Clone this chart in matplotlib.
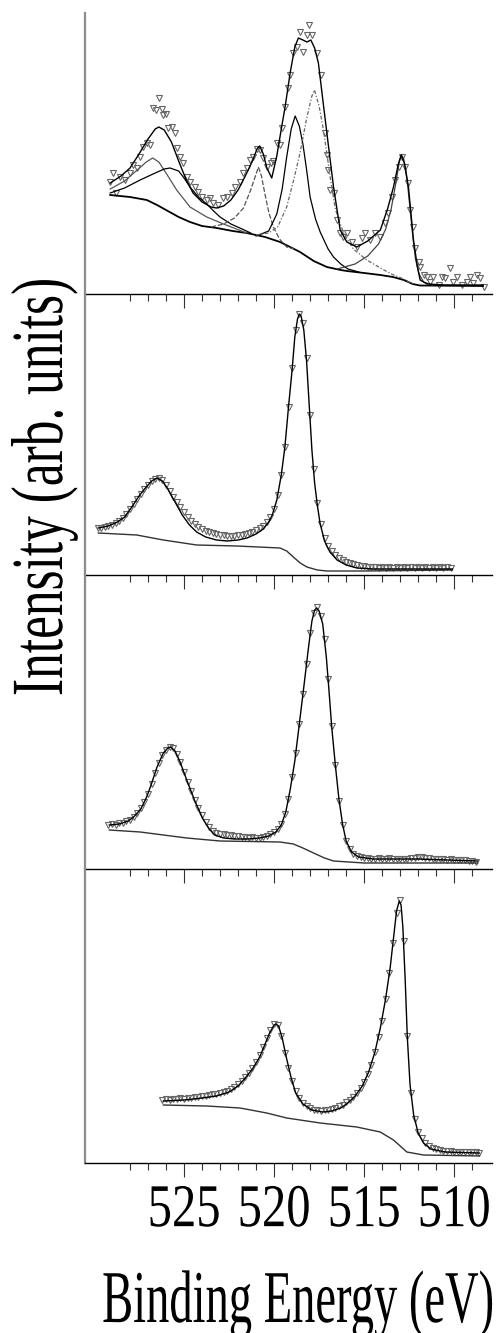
"""Four stacked XPS spectra (fits + Shirley background), binding energy 530-508 eV."""
import matplotlib
matplotlib.use("Agg")
import matplotlib.pyplot as plt
import numpy as np
from matplotlib import patheffects
from matplotlib.transforms import Affine2D
from matplotlib.ticker import FixedLocator, NullFormatter

# ---------------------------------------------------------------- panel 1 (top)
p1_data_e = [529.11, 528.93, 528.78, 528.56, 528.28, 528.0, 527.81, 527.63, 527.44, 527.26,
             527.07, 526.89, 526.7, 526.56, 526.39, 526.24, 526.15, 526.0, 525.87, 525.68,
             525.5, 525.41, 525.22, 525.04, 524.85, 524.67, 524.39, 524.21, 524.02, 523.74,
             523.56, 523.37, 523.09, 522.81, 522.63, 522.35, 522.17, 521.89, 521.7, 521.52,
             521.33, 521.15, 520.96, 520.78, 520.63, 520.41, 520.18, 520.04, 519.85, 519.67,
             519.57, 519.39, 519.2, 519.11, 518.93, 518.74, 518.56, 518.37, 518.18, 518.04,
             517.91, 517.63, 517.41, 517.17, 517.07, 516.98, 516.89, 516.7, 516.52, 516.33,
             516.15, 515.96, 515.68, 515.41, 515.13, 514.94, 514.67, 514.39, 514.11, 513.83,
             513.65, 513.46, 513.28, 513.09, 512.91, 512.72, 512.54, 512.44, 512.26, 512.17,
             511.98, 511.89, 511.7, 511.52, 511.33, 511.15, 510.87, 510.68, 510.5, 510.22,
             510.04, 509.85, 509.57, 509.3, 509.11, 508.93, 508.74, 508.56, 508.37]
p1_data_i = [112, 121, 101, 117, 114, 121, 129, 126, 137, 147,
             151, 149, 186, 184, 196, 185, 179, 180, 166, 167,
             161, 146, 137, 131, 117, 112, 107, 102, 97, 94,
             96, 91, 89, 96, 97, 101, 107, 112, 121, 126,
             134, 137, 145, 144, 136, 127, 131, 133, 151, 149,
             166, 187, 206, 219, 241, 247, 262, 242, 259, 269,
             259, 241, 219, 161, 139, 124, 104, 101, 74, 61,
             57, 61, 52, 47, 56, 61, 54, 61, 57, 71,
             81, 97, 114, 127, 137, 127, 111, 84, 67, 46,
             32, 27, 19, 17, 12, 17, 9, 17, 16, 26,
             12, 17, 9, 12, 17, 11, 19, 16, 7]

p1_fit_e = [529.1, 528.5, 528.0, 527.5, 527.0, 526.6, 526.4, 526.1, 525.7, 525.3,
            524.9, 524.5, 524.0, 523.5, 523.2, 522.8, 522.4, 522.0, 521.6, 521.2,
            520.95, 520.8, 520.6, 520.4, 520.13, 519.85, 519.6, 519.39, 519.1, 518.85,
            518.65, 518.4, 518.18, 517.96, 517.75, 517.54, 517.3, 517.07, 516.7, 516.33,
            515.96, 515.41, 514.8, 514.1, 513.7, 513.37, 513.1, 512.94, 512.75, 512.54,
            512.26, 512.05, 511.89, 511.5, 510.5, 508.4]
p1_fit_i = [111, 118, 126, 140, 155, 165, 167, 164, 152, 133,
            115, 101, 92, 87, 86, 88, 94, 104, 118, 133,
            145, 148, 140, 126, 116, 138, 165, 187, 222, 247,
            256, 254, 252, 254, 246, 231, 195, 161, 107, 64,
            52, 47, 53, 64, 85, 107, 130, 139, 130, 107,
            54, 28, 14, 10, 9, 9]

p1_bg_e = [529.1, 528.0, 527.07, 526.5, 526.0, 525.3, 524.67, 524.0, 523.18, 522.3,
           521.52, 520.5, 519.67, 519.0, 518.56, 517.8, 517.07, 516.3, 515.96, 515.0,
           514.1, 513.4, 512.8, 512.3, 511.9, 508.4]
p1_bg_i = [99, 97, 94, 89, 84, 77, 72, 68, 66, 63,
           61, 57, 52, 46, 42, 33, 27, 24, 23, 21,
           19, 17, 14, 10, 8.5, 8]

# component peaks of panel 1
p1_a_e = [529.1, 528.3, 527.6, 527.1, 526.74, 526.4, 526.0, 525.41, 524.67, 523.74, 522.81, 521.52]
p1_a_i = [105, 113, 124, 132, 136, 132, 121, 104, 87, 77, 70, 61]
p1_b_e = [529.1, 528.3, 527.44, 526.6, 526.1, 525.78, 525.3, 525.0, 524.67, 524.2,
          523.74, 523.3, 523.0, 522.4, 521.9, 521.3]
p1_b_i = [101, 106, 114, 121, 125, 126, 123, 116, 107, 97,
          90, 82, 77, 70, 66, 61]
p1_c_e = [523.5, 522.8, 522.2, 521.7, 521.3, 521.0, 520.87, 520.7, 520.52, 520.3,
          520.04, 519.7, 519.3, 518.9]
p1_c_i = [67, 70, 76, 86, 104, 120, 127, 118, 101, 82,
          67, 55, 47, 45]
p1_d_e = [521.0, 520.3, 519.85, 519.55, 519.3, 519.05, 518.83, 518.6, 518.4, 518.2,
          518.0, 517.7, 517.44, 517.0, 516.7, 516.3, 515.9, 515.3]
p1_d_i = [58, 63, 80, 105, 137, 165, 178, 168, 150, 125,
          97, 75, 62, 45, 37, 30, 25, 22]
p1_e_e = [521.0, 520.3, 519.8, 519.3, 518.9, 518.56, 518.2, 517.9, 517.76, 517.5,
          517.26, 517.05, 516.89, 516.6, 516.15, 515.6, 514.85, 514.0, 513.37, 512.8, 512.3]
p1_e_i = [59, 61, 67, 87, 115, 141, 175, 198, 204, 188,
          164, 138, 117, 85, 61, 45, 34, 25, 19, 15, 10]
p1_f_e = [516.5, 515.5, 514.8, 514.2, 513.8, 513.5, 513.25, 513.05, 512.93, 512.8,
          512.6, 512.45, 512.3, 512.15, 511.95, 511.7, 511.2]
p1_f_i = [25, 30, 38, 50, 65, 85, 110, 132, 139, 135,
          112, 85, 58, 35, 20, 12, 9]

# ---------------------------------------------------------------- panel 2
p2_start, p2_step = 529.8, 0.2
p2_data_i = [47, 47, 48, 49, 50, 52, 54, 57, 61, 66,
             71, 76, 81, 86, 90, 94, 96, 97, 95, 90,
             84, 78, 73, 68, 63, 58, 54, 51, 48, 46,
             44, 43, 42, 41, 40, 40, 39, 39, 39, 40,
             40, 41, 42, 43, 45, 47, 49, 53, 58, 66,
             80, 100, 128, 168, 207, 245, 261, 252, 217, 160,
             106, 72, 51, 37, 29, 24, 20, 17, 15, 13,
             12, 11, 10, 9, 9, 8, 8, 8, 7, 8,
             7, 8, 7, 8, 7, 8, 7, 8, 7, 8,
             7, 8, 7, 8, 7, 8, 7, 8, 7]
p2_fit_e = [529.76, 529.2, 528.7, 528.3, 527.9, 527.5, 527.1, 526.8, 526.5, 526.2,
            525.9, 525.5, 525.1, 524.7, 524.3, 523.8, 523.2, 522.6, 522.0, 521.5,
            521.0, 520.6, 520.3, 520.1, 519.85, 519.6, 519.4, 519.2, 519.0, 518.85,
            518.7, 518.6, 518.5, 518.35, 518.2, 518.05, 517.9, 517.75, 517.6, 517.45,
            517.2, 516.9, 516.5, 516.0, 515.4, 514.5, 513.0, 510.1]
p2_fit_i = [47, 49, 53, 58, 68, 79, 88, 94, 97, 94,
            86, 73, 60, 50, 43, 38, 35, 34, 35, 37,
            41, 46, 53, 60, 75, 100, 128, 168, 205, 238,
            256, 261, 259, 245, 215, 170, 125, 92, 70, 52,
            34, 23, 15, 10, 7, 6, 6, 6]
p2_bg_e = [529.76, 527.63, 526.15, 524.3, 522.07, 519.67, 519.3, 518.93, 518.55, 518.18,
           517.6, 517.07, 515.0, 510.1]
p2_bg_i = [42, 40, 35, 30, 29, 27, 24, 18, 12, 8, 5, 4, 4, 5]

# ---------------------------------------------------------------- panel 3
p3_start, p3_step = 529.2, 0.2
p3_data_i = [44, 45, 44, 46, 46, 48, 49, 52, 56, 61,
             67, 75, 85, 96, 106, 114, 119, 122, 121, 115,
             107, 97, 87, 78, 69, 61, 54, 47, 42, 38,
             36, 35, 35, 34, 34, 33, 33, 32, 32, 31,
             32, 31, 31, 32, 33, 35, 37, 40, 45, 55,
             70, 92, 116, 145, 175, 205, 236, 256, 262, 253,
             230, 190, 143, 104, 68, 44, 28, 20, 15, 13,
             12, 11, 11, 10, 10, 11, 10, 10, 11, 10,
             10, 10, 10, 10, 11, 11, 12, 12, 11, 11,
             10, 10, 10, 10, 9, 10, 9, 9, 9, 9,
             8, 8, 7]
p3_fit_e = [529.15, 528.6, 528.1, 527.8, 527.4, 527.1, 526.85, 526.5, 526.15, 525.9,
            525.74, 525.5, 525.22, 524.85, 524.4, 523.95, 523.6, 523.3, 522.8, 522.2,
            521.5, 520.8, 520.3, 519.9, 519.6, 519.35, 519.1, 518.85, 518.6, 518.35,
            518.1, 517.9, 517.75, 517.63, 517.5, 517.3, 517.1, 516.95, 516.8, 516.6,
            516.4, 516.2, 516.0, 515.7, 515.3, 514.5, 512.0, 508.7]
p3_fit_i = [44, 45, 48, 52, 60, 71, 83, 102, 116, 121,
            122, 118, 107, 89, 68, 50, 40, 34, 31, 30,
            30, 31, 33, 37, 44, 57, 80, 108, 145, 182,
            220, 248, 259, 261, 258, 245, 212, 178, 142, 104,
            70, 45, 28, 17, 12, 10, 10, 8]
p3_bg_e = [529.15, 527.44, 526.15, 524.85, 523.0, 519.67, 518.93, 518.4, 517.81, 517.2,
           516.7, 515.0, 508.7]
p3_bg_i = [39, 37, 34, 31, 28, 27, 25, 21, 16, 11, 8, 6, 6]

# ---------------------------------------------------------------- panel 4 (bottom)
p4_start, p4_step = 526.2, 0.2
p4_data_i = [63, 64, 63, 64, 64, 65, 64, 65, 65, 66,
             66, 67, 67, 68, 69, 69, 70, 71, 72, 74,
             76, 79, 82, 86, 90, 95, 101, 108, 116, 125,
             133, 139, 138, 127, 110, 95, 82, 72, 65, 60,
             57, 55, 53, 53, 52, 53, 53, 54, 55, 57,
             58, 61, 63, 66, 70, 75, 81, 89, 98, 111,
             126, 142, 164, 190, 220, 250, 263, 222, 127, 70,
             44, 31, 25, 20, 17, 15, 14, 13, 12, 12,
             12, 11, 11, 11, 11, 11, 11, 11, 10]
p4_fit_e = [526.15, 525.0, 524.0, 523.2, 522.5, 522.0, 521.6, 521.2, 520.8, 520.5,
            520.25, 520.0, 519.9, 519.75, 519.55, 519.3, 519.05, 518.8, 518.4, 517.9,
            517.3, 516.8, 516.3, 515.9, 515.5, 515.1, 514.75, 514.4, 514.1, 513.8,
            513.55, 513.35, 513.2, 513.05, 512.95, 512.85, 512.72, 512.6, 512.45, 512.25,
            512.0, 511.7, 511.3, 510.5, 508.6]
p4_fit_i = [62, 63, 65, 67, 71, 77, 85, 94, 106, 119,
            130, 138, 139, 137, 125, 104, 85, 70, 59, 53,
            51, 52, 55, 60, 67, 77, 91, 111, 135, 165,
            196, 228, 252, 262, 258, 236, 183, 125, 78, 48,
            30, 20, 14, 11, 10]
p4_bg_e = [526.15, 523.74, 521.89, 520.41, 519.3, 517.44, 515.41, 514.11, 513.37, 512.63,
           511.7, 508.6]
p4_bg_i = [58, 57, 55, 50, 45, 40, 36, 31, 23, 11, 8, 7]

# axes geometry measured in pixels on a 504x1333 canvas
W, H = 504, 1333
AX_LEFT, AX_RIGHT = 85, 492
PANELS = [(13, 294), (294, 575), (575, 869), (869, 1163)]  # (top, bottom) px
XLIM = (530.5, 507.9)
MAJOR = [525, 520, 515, 510]
MINOR = [e for e in range(509, 529) if e not in MAJOR]

SERIF = ["Liberation Serif", "DejaVu Serif"]
DATA_KW = dict(ls="none", marker="v", ms=4.2, mfc="none", mec="#666666", mew=0.8, zorder=2)


class Tall(patheffects.AbstractPathEffect):
    """Stretch glyphs across the text direction, about the baseline.

    The original lettering is a tall, narrow Times; the font size sets the
    width and this sets the height.
    """

    def __init__(self, sy):
        super().__init__()
        self.sy = sy

    def draw_path(self, renderer, gc, tpath, affine, rgbFace=None):
        renderer.draw_path(gc, tpath, Affine2D().scale(1, self.sy) + affine, rgbFace)


def grid(start, step, values):
    return start - step * np.arange(len(values))


fig = plt.figure(figsize=(W / 100, H / 100), dpi=100)
axes = []
for top, bottom in PANELS:
    ax = fig.add_axes([AX_LEFT / W, (H - bottom) / H, (AX_RIGHT - AX_LEFT) / W, (bottom - top) / H])
    ax.patch.set_visible(False)
    ax.set_xlim(*XLIM)
    ax.set_ylim(0, bottom - top)
    for s in ("top", "right"):
        ax.spines[s].set_visible(False)
    ax.spines["left"].set_color("#8c8c8c")
    ax.spines["left"].set_linewidth(1.6)
    ax.spines["bottom"].set_color("black")
    ax.spines["bottom"].set_linewidth(1.0)
    ax.set_yticks([])
    ax.xaxis.set_major_locator(FixedLocator(MAJOR))
    ax.xaxis.set_minor_locator(FixedLocator(MINOR))
    ax.tick_params(axis="x", which="major", direction="out", length=10, width=0.8, color="#333333")
    ax.tick_params(axis="x", which="minor", direction="out", length=5, width=0.8, color="#333333")
    ax.xaxis.set_major_formatter(NullFormatter())
    axes.append(ax)

# panel 1: data, envelope, background and six components
ax = axes[0]
ax.plot(p1_data_e, p1_data_i, **DATA_KW)
ax.plot(p1_bg_e, p1_bg_i, color="black", lw=1.3, zorder=3)
ax.plot(p1_a_e, p1_a_i, color="#555555", lw=0.9, zorder=3)
ax.plot(p1_b_e, p1_b_i, color="black", lw=0.9, zorder=3)
ax.plot(p1_c_e, p1_c_i, color="#555555", lw=0.9, ls=(0, (4, 1.5)), zorder=3)
ax.plot(p1_d_e, p1_d_i, color="black", lw=0.9, zorder=3)
ax.plot(p1_e_e, p1_e_i, color="#666666", lw=0.9, ls=(0, (3, 1.5, 1, 1.5)), zorder=3)
ax.plot(p1_f_e, p1_f_i, color="#444444", lw=0.9, zorder=3)
ax.plot(p1_fit_e, p1_fit_i, color="black", lw=1.0, zorder=4)

# panels 2-4: data, fit and background
rest = [
    (p2_start, p2_step, p2_data_i, p2_fit_e, p2_fit_i, p2_bg_e, p2_bg_i),
    (p3_start, p3_step, p3_data_i, p3_fit_e, p3_fit_i, p3_bg_e, p3_bg_i),
    (p4_start, p4_step, p4_data_i, p4_fit_e, p4_fit_i, p4_bg_e, p4_bg_i),
]
for ax, (start, step, data_i, fit_e, fit_i, bg_e, bg_i) in zip(axes[1:], rest):
    ax.plot(grid(start, step, data_i), data_i, **DATA_KW)
    ax.plot(bg_e, bg_i, color="#333333", lw=1.0, zorder=3)
    ax.plot(fit_e, fit_i, color="black", lw=1.0, zorder=4)

# tick labels on the bottom panel only
bottom_ax = axes[-1]
bottom_ax.set_xticklabels([str(v) for v in MAJOR])
bottom_ax.tick_params(axis="x", which="major", pad=11)
for lab in bottom_ax.get_xticklabels():
    lab.set_family(SERIF)
    lab.set_fontsize(35)
    lab.set_path_effects([Tall(1.25)])

fig.text(298 / W, 11 / H, "Binding Energy (eV)", family=SERIF, fontsize=33.5,
         ha="center", va="baseline", path_effects=[Tall(1.6)])
# baseline of the rotated label sits at x = 62 px, centred at y = 487 px
fig.text(62 / W, (H - 487) / H, "Intensity (arb. units)", family=SERIF, fontsize=37,
         rotation=90, ha="center", va="baseline", rotation_mode="anchor",
         path_effects=[Tall(1.43)])

fig.savefig("out.png", dpi=100)
plt.close(fig)
